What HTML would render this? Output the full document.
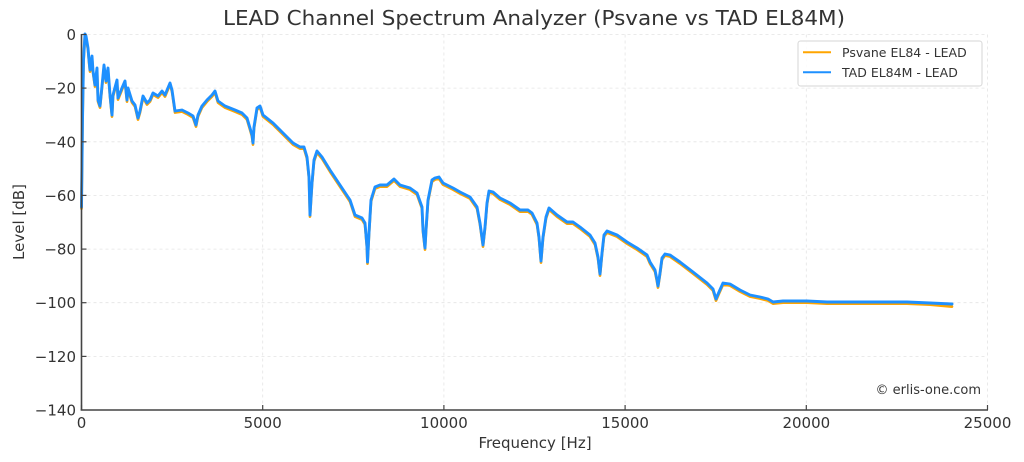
<!DOCTYPE html>
<html><head><meta charset="utf-8"><style>
html,body{margin:0;padding:0;background:#fff;}
svg{display:block;font-family:"DejaVu Sans","Liberation Sans",sans-serif;}
</style></head><body>
<svg width="1024" height="462" viewBox="0 0 1024 462" xmlns="http://www.w3.org/2000/svg">
<rect width="1024" height="462" fill="#fff"/>
<!-- grid -->
<g stroke="#e4e4e4" stroke-width="0.8" stroke-dasharray="3,3" fill="none">
<line x1="262.7" y1="34.5" x2="262.7" y2="410"/>
<line x1="443.9" y1="34.5" x2="443.9" y2="410"/>
<line x1="625.1" y1="34.5" x2="625.1" y2="410"/>
<line x1="806.3" y1="34.5" x2="806.3" y2="410"/>
<line x1="987.5" y1="34.5" x2="987.5" y2="410"/>
<line x1="81.5" y1="34.5" x2="987.5" y2="34.5"/>
<line x1="81.5" y1="88.1" x2="987.5" y2="88.1"/>
<line x1="81.5" y1="141.8" x2="987.5" y2="141.8"/>
<line x1="81.5" y1="195.4" x2="987.5" y2="195.4"/>
<line x1="81.5" y1="249.1" x2="987.5" y2="249.1"/>
<line x1="81.5" y1="302.7" x2="987.5" y2="302.7"/>
<line x1="81.5" y1="356.4" x2="987.5" y2="356.4"/>
</g>
<!-- series -->
<g fill="none" stroke-linejoin="round" stroke-linecap="round">
<polyline transform="translate(0,1.6)" stroke="#FFA500" stroke-width="2.7" points="81.5,207 82.5,120 83.5,60 85,34 86,36 88,48 89,60 90,70 92,56 93,71 95,85 97,68 98,100 100,106 102,86 104,65 106,81 108,68 110,95 112,115 113,95 117,80 118,98 122,88 125,81 127,100 128,88 132,101 135,105 138,118 140,111 143,96 147,103 150,100 153,93 158,96 162,91 165,95 170,83 172,90 175,111 182,110 188,113 193,116 196,125 198,115 202,106 207,100 212,95 215,91 218,101 225,106 235,110 242,113 247,118 250,128 252,135 253,143 254,127 257,108 260,106 263,115 273,123 283,133 293,143 300,147 304,147 307,157 309,177 310,215 312,183 314,160 317,151 322,157 330,170 340,185 350,200 355,215 362,218 365,223 367,247 367.5,262 369,233 371,200 375,187 380,185 387,185 394,179 400,185 410,188 417,193 422,207 423,230 425,248 426,230 428,200 432,180 435,178 439,177 443,183 453,188 460,192 470,197 477,207 480,223 483,245 485,227 487,203 489,191 493,192 500,198 510,203 520,210 528,210 532,213 537,223 539,237 541,261 543,237 546,217 549,208 557,215 567,222 573,222 580,227 590,235 595,243 598,257 600,274 602,253 604,235 607,231 612,233 617,235 627,242 637,248 647,255 650,262 655,270 657,280 658,286 660,273 662,258 665,254 670,255 680,262 693,272 707,283 713,289 716,299 719,292 723,283 730,284 740,290 750,295 760,297 768,299 773,302 783,301 807,301 827,302 873,302 907,302 930,303 952,305"/>
<polyline stroke="#1E90FF" stroke-width="2.9" points="81.5,207 82.5,120 83.5,60 85,34 86,36 88,48 89,60 90,70 92,56 93,71 95,85 97,68 98,100 100,106 102,86 104,65 106,81 108,68 110,95 112,115 113,95 117,80 118,98 122,88 125,81 127,100 128,88 132,101 135,105 138,118 140,111 143,96 147,103 150,100 153,93 158,96 162,91 165,95 170,83 172,90 175,111 182,110 188,113 193,116 196,125 198,115 202,106 207,100 212,95 215,91 218,101 225,106 235,110 242,113 247,118 250,128 252,135 253,143 254,127 257,108 260,106 263,115 273,123 283,133 293,143 300,147 304,147 307,157 309,177 310,215 312,183 314,160 317,151 322,157 330,170 340,185 350,200 355,215 362,218 365,223 367,247 367.5,262 369,233 371,200 375,187 380,185 387,185 394,179 400,185 410,188 417,193 422,207 423,230 425,248 426,230 428,200 432,180 435,178 439,177 443,183 453,188 460,192 470,197 477,207 480,223 483,245 485,227 487,203 489,191 493,192 500,198 510,203 520,210 528,210 532,213 537,223 539,237 541,261 543,237 546,217 549,208 557,215 567,222 573,222 580,227 590,235 595,243 598,257 600,274 602,253 604,235 607,231 612,233 617,235 627,242 637,248 647,255 650,262 655,270 657,280 658,286 660,273 662,258 665,254 670,255 680,262 693,272 707,283 713,289 716,299 719,292 723,283 730,284 740,290 750,295 760,297 768,299 773,302 783,301 807,301 827,302 873,302 907,302 930,303 952,304"/>
</g>
<!-- spines -->
<g stroke="#444" stroke-width="1.6" fill="none">
<line x1="81.5" y1="34" x2="81.5" y2="410.5"/>
<line x1="80.7" y1="410" x2="988" y2="410"/>
</g>
<!-- ticks (inward) -->
<g stroke="#444" stroke-width="1.2">
<line x1="81.5" y1="410" x2="81.5" y2="405"/>
<line x1="262.7" y1="410" x2="262.7" y2="405"/>
<line x1="443.9" y1="410" x2="443.9" y2="405"/>
<line x1="625.1" y1="410" x2="625.1" y2="405"/>
<line x1="806.3" y1="410" x2="806.3" y2="405"/>
<line x1="987.5" y1="410" x2="987.5" y2="405"/>
<line x1="81.5" y1="34.5" x2="86.5" y2="34.5"/>
<line x1="81.5" y1="88.1" x2="86.5" y2="88.1"/>
<line x1="81.5" y1="141.8" x2="86.5" y2="141.8"/>
<line x1="81.5" y1="195.4" x2="86.5" y2="195.4"/>
<line x1="81.5" y1="249.1" x2="86.5" y2="249.1"/>
<line x1="81.5" y1="302.7" x2="86.5" y2="302.7"/>
<line x1="81.5" y1="356.4" x2="86.5" y2="356.4"/>
</g>
<!-- tick labels -->
<g fill="#333" font-size="15">
<g text-anchor="middle">
<text x="81.5" y="428">0</text>
<text x="262.7" y="428">5000</text>
<text x="443.9" y="428">10000</text>
<text x="625.1" y="428">15000</text>
<text x="806.3" y="428">20000</text>
<text x="987.5" y="428">25000</text>
</g>
<g text-anchor="end">
<text x="76" y="40">0</text>
<text x="76" y="93.6">−20</text>
<text x="76" y="147.3">−40</text>
<text x="76" y="200.9">−60</text>
<text x="76" y="254.6">−80</text>
<text x="76" y="308.2">−100</text>
<text x="76" y="361.9">−120</text>
<text x="76" y="415.5">−140</text>
</g>
</g>
<!-- axis labels and title -->
<text x="535" y="448" text-anchor="middle" font-size="15" fill="#333">Frequency [Hz]</text>
<text transform="translate(24,222) rotate(-90)" text-anchor="middle" font-size="15" fill="#333">Level [dB]</text>
<text x="534" y="25" text-anchor="middle" font-size="20" fill="#333" textLength="622" lengthAdjust="spacingAndGlyphs">LEAD Channel Spectrum Analyzer (Psvane vs TAD EL84M)</text>
<!-- legend -->
<rect x="798" y="41" width="184" height="45" rx="2.5" fill="#fff" fill-opacity="0.85" stroke="#d6d6d6" stroke-width="1"/>
<line x1="803" y1="52.3" x2="831" y2="52.3" stroke="#FFA500" stroke-width="2"/>
<line x1="803" y1="72.3" x2="831" y2="72.3" stroke="#1E90FF" stroke-width="2"/>
<g fill="#333" font-size="12.5">
<text x="842" y="57">Psvane EL84 - LEAD</text>
<text x="842" y="77">TAD EL84M - LEAD</text>
</g>
<!-- watermark -->
<text x="981" y="394" text-anchor="end" font-size="13" fill="#333">© erlis-one.com</text>
</svg>
</body></html>
